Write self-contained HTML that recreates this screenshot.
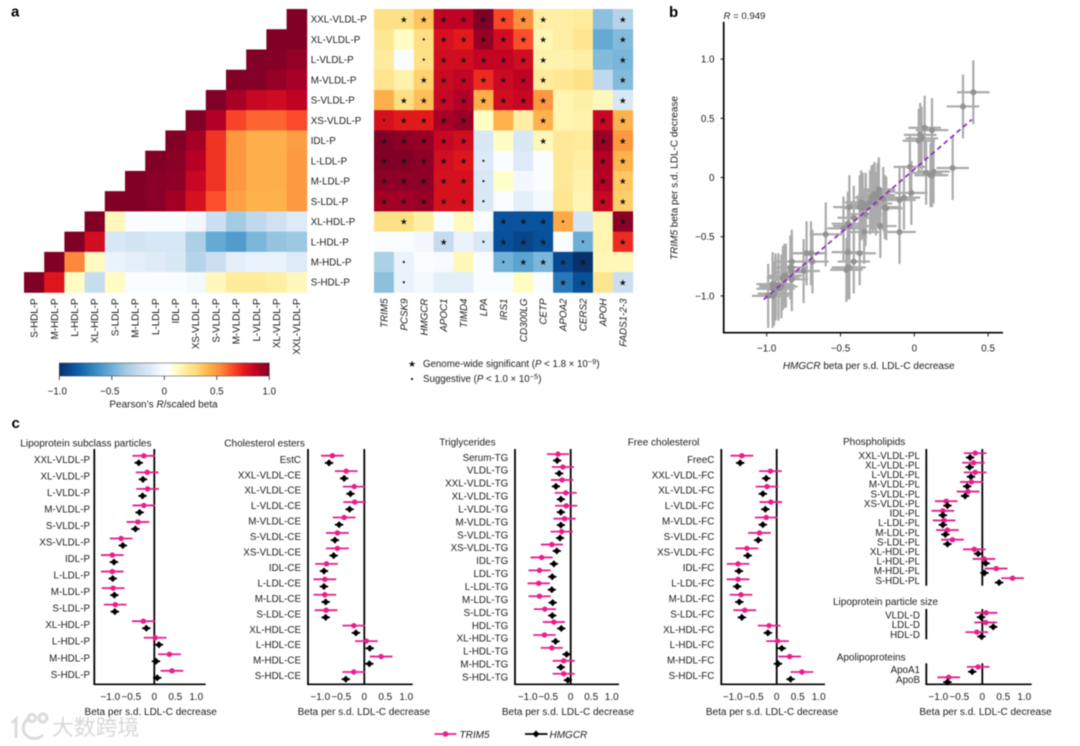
<!DOCTYPE html>
<html lang="en">
<head>
<meta charset="utf-8">
<title>Lipoprotein correlation and forest plots</title>
<style>
html,body{margin:0;padding:0;background:#fff;width:1080px;height:746px;overflow:hidden}
svg{display:block;filter:blur(0.4px)}
text{font-family:"Liberation Sans","Noto Sans CJK SC",sans-serif;fill:#1c1c1c}
</style>
</head>
<body>
<svg id="figure" xmlns="http://www.w3.org/2000/svg" width="1080" height="746" viewBox="0 0 1080 746">
  <defs><linearGradient id="cbar-gradient" x1="0" x2="1" y1="0" y2="0"></linearGradient></defs>
  <g id="watermark">
    <g fill="none" stroke="#dcdcdc" stroke-width="3">
      <path d="M12 723 L16 719 L16 738"/>
      <path d="M29 718 C21 724 21 735 31 738 C36 739 40 738 43 735"/>
      <circle cx="32" cy="718" r="3.6"/>
      <circle cx="43" cy="718" r="4"/>
    </g>
    <text x="52" y="735" font-size="21.8" style="fill:#d8d8d8;font-family:'Noto Sans CJK SC','WenQuanYi Zen Hei',sans-serif">大数跨境</text>
  </g>
  <g id="panel-a"></g>
  <g id="panel-b"></g>
  <g id="panel-c"></g>
  <g font-weight="700" font-size="15">
    <text x="11" y="16.5" style="fill:#000">a</text>
    <text x="669" y="17" style="fill:#000">b</text>
    <text x="11.5" y="428" style="fill:#000">c</text>
  </g>
  <g font-size="9.7">
    <text x="412" y="367" text-anchor="middle" font-size="9" style="font-family:'DejaVu Sans',sans-serif;fill:#111">★</text>
    <text x="423" y="367">Genome-wide significant (<tspan font-style="italic">P</tspan> &lt; 1.8 × 10<tspan dy="-3" font-size="7.5">−9</tspan><tspan dy="3">)</tspan></text>
    <circle cx="412" cy="379" r="1.1" fill="#111"/>
    <text x="423" y="382">Suggestive (<tspan font-style="italic">P</tspan> &lt; 1.0 × 10<tspan dy="-3" font-size="7.5">−5</tspan><tspan dy="3">)</tspan></text>
  </g>
  <g>
    <g>
      <line x1="434.5" x2="456.5" y1="734" y2="734" stroke="#e91e8c" stroke-width="1.8"/>
      <circle cx="445.5" cy="734" r="2.8" fill="#e91e8c"/>
      <text x="459.5" y="738" font-size="10" font-style="italic">TRIM5</text>
    </g>
    <g>
      <line x1="525" x2="547.5" y1="734" y2="734" stroke="#000" stroke-width="1.8"/>
      <polygon points="536,730.5 539.5,734 536,737.5 532.5,734" fill="#000"/>
      <text x="549.5" y="738" font-size="10" font-style="italic">HMGCR</text>
    </g>
  </g>
</svg>
<script>
/* ---------- Panel a data ---------- */
const corrRowLabels = ["XXL-VLDL-P","XL-VLDL-P","L-VLDL-P","M-VLDL-P","S-VLDL-P","XS-VLDL-P","IDL-P","L-LDL-P","M-LDL-P","S-LDL-P","XL-HDL-P","L-HDL-P","M-HDL-P","S-HDL-P"];
const corrColLabels = ["S-HDL-P","M-HDL-P","L-HDL-P","XL-HDL-P","S-LDL-P","M-LDL-P","L-LDL-P","IDL-P","XS-VLDL-P","S-VLDL-P","M-VLDL-P","L-VLDL-P","XL-VLDL-P","XXL-VLDL-P"];
const corrValues = [
 [null,null,null,null,null,null,null,null,null,null,null,null,null,1],
 [null,null,null,null,null,null,null,null,null,null,null,null,1,1],
 [null,null,null,null,null,null,null,null,null,null,null,1,0.99,0.96],
 [null,null,null,null,null,null,null,null,null,null,1,0.99,0.96,0.92],
 [null,null,null,null,null,null,null,null,null,1,0.92,0.85,0.83,0.87],
 [null,null,null,null,null,null,null,null,1,0.9,0.66,0.6,0.6,0.65],
 [null,null,null,null,null,null,null,1,0.93,0.7,0.5,0.43,0.43,0.48],
 [null,null,null,null,null,null,1,0.98,0.89,0.7,0.5,0.43,0.43,0.49],
 [null,null,null,null,null,1,0.98,0.97,0.85,0.7,0.5,0.43,0.43,0.49],
 [null,null,null,null,1,1,0.98,0.93,0.8,0.64,0.47,0.42,0.42,0.49],
 [null,null,null,1,0.14,0,0,0,-0.05,-0.22,-0.36,-0.27,-0.2,-0.13],
 [null,null,1,0.82,-0.16,-0.18,-0.16,-0.16,-0.33,-0.52,-0.58,-0.46,-0.4,-0.38],
 [null,1,0.54,0.13,-0.08,-0.1,-0.12,-0.15,-0.3,-0.22,-0.1,-0.08,-0.08,-0.13],
 [1,0.78,0.12,-0.24,0.12,0,0,0,-0.04,0.14,0.22,0.22,0.2,0.14]
];
const geneLabels = ["TRIM5","PCSK9","HMGCR","APOC1","TIMD4","LPA","IRS1","CD300LG","CETP","APOA2","CERS2","APOH","FADS1-2-3"];
const geneValues = [
 [0.27,0.27,0.37,0.87,0.87,1,0.66,0.52,0.2,0.2,0.22,-0.42,-0.3],
 [0.24,0.12,0.28,0.8,0.76,0.95,0.82,0.64,0.16,0.2,0.25,-0.52,-0.44],
 [0.22,0,0.27,0.82,0.82,0.86,0.86,0.82,0.18,0.18,0.2,-0.44,-0.47],
 [0.25,0.18,0.33,0.84,0.86,0.72,0.84,0.87,0.22,0.24,0.27,-0.27,-0.44],
 [0.43,0.28,0.39,0.85,0.9,0.43,0.82,0.85,0.5,0.17,0.19,0.14,-0.15],
 [0.8,0.76,0.76,0.92,0.95,0.12,0.42,0.2,0.42,0.17,0.18,0.85,0.42],
 [1,0.97,0.95,0.85,0.82,-0.15,0.12,-0.15,0.15,0.23,0.22,0.95,0.5],
 [1,1,0.97,0.82,0.78,-0.13,0,-0.13,0,0.23,0.2,0.9,0.42],
 [0.97,0.97,0.97,0.8,0.8,-0.15,0.1,-0.05,0,0.23,0.18,0.9,0.36],
 [0.93,0.93,0.95,0.8,0.8,-0.15,0,-0.1,-0.04,0.25,0.16,0.85,0.34],
 [0.27,0.27,0.2,0,0.13,0,-0.87,-0.87,-0.87,0.45,-0.17,0.17,0.98],
 [0,0,-0.05,-0.25,-0.08,-0.15,-0.88,-0.92,-0.88,0,-0.5,0.17,0.72],
 [-0.33,-0.08,0,-0.03,0.15,0,-0.48,-0.55,-0.46,-0.9,-1,0.15,0.15],
 [-0.42,-0.08,-0.04,-0.1,-0.1,0,0,0.12,0,-0.72,-0.88,0.25,-0.22]
];
const geneSignificance = [
 [0,2,2,2,2,2,2,2,2,0,0,0,2],
 [0,0,1,2,2,2,2,2,2,0,0,0,2],
 [0,0,1,2,2,2,2,2,2,0,0,0,2],
 [0,0,2,2,2,2,2,2,2,0,0,0,2],
 [0,2,2,2,2,2,2,2,2,0,0,0,2],
 [1,2,2,2,2,0,0,0,2,0,0,2,2],
 [2,2,2,2,2,0,0,0,2,0,0,2,2],
 [2,2,2,2,2,1,0,0,0,0,0,2,2],
 [2,2,2,2,2,1,0,0,0,0,0,2,2],
 [2,2,2,2,2,1,0,0,0,0,0,2,2],
 [0,2,0,0,0,0,2,2,2,1,0,0,2],
 [0,0,0,2,0,1,2,2,2,0,1,0,2],
 [0,1,0,0,0,0,1,2,2,2,2,0,0],
 [0,1,0,0,0,0,0,0,0,2,2,0,2]
];
const colorbarTicks = [-1,-0.5,0,0.5,1];
const colorbarTickLabels = ["−1.0","−0.5","0","0.5","1.0"];

/* ---------- Panel c data ---------- */
const lipoLabels = ["XXL-VLDL-P","XL-VLDL-P","L-VLDL-P","M-VLDL-P","S-VLDL-P","XS-VLDL-P","IDL-P","L-LDL-P","M-LDL-P","S-LDL-P","XL-HDL-P","L-HDL-P","M-HDL-P","S-HDL-P"];
const lipoTrim5 = [-0.25,-0.17,-0.16,-0.25,-0.39,-0.79,-1.0,-1.0,-0.98,-0.93,-0.26,0.02,0.36,0.42];
const lipoHmgcr = [-0.37,-0.27,-0.28,-0.35,-0.45,-0.75,-0.96,-0.99,-0.95,-0.94,-0.19,0.11,0.04,0.07];
const ceLabels = ["EstC","XXL-VLDL-CE","XL-VLDL-CE","L-VLDL-CE","M-VLDL-CE","S-VLDL-CE","XS-VLDL-CE","IDL-CE","L-LDL-CE","M-LDL-CE","S-LDL-CE","XL-HDL-CE","L-HDL-CE","M-HDL-CE","S-HDL-CE"];
const ceTrim5 = [-0.76,-0.43,-0.24,-0.23,-0.48,-0.64,-0.64,-0.9,-0.94,-0.94,-0.91,-0.25,0.05,0.4,-0.25];
const ceHmgcr = [-0.84,-0.48,-0.33,-0.35,-0.6,-0.7,-0.73,-0.96,-0.96,-0.92,-0.92,-0.2,0.13,0.12,-0.44];
const tgLabels = ["Serum-TG","VLDL-TG","XXL-VLDL-TG","XL-VLDL-TG","L-VLDL-TG","M-VLDL-TG","S-VLDL-TG","XS-VLDL-TG","IDL-TG","LDL-TG","L-LDL-TG","M-LDL-TG","S-LDL-TG","HDL-TG","XL-HDL-TG","L-HDL-TG","M-HDL-TG","S-HDL-TG"];
const tgTrim5 = [-0.31,-0.19,-0.21,-0.12,-0.11,-0.15,-0.22,-0.46,-0.71,-0.76,-0.78,-0.76,-0.63,-0.41,-0.64,-0.46,-0.17,-0.17];
const tgHmgcr = [-0.33,-0.28,-0.36,-0.24,-0.24,-0.24,-0.26,-0.34,-0.41,-0.45,-0.46,-0.44,-0.45,-0.23,-0.37,-0.1,-0.24,-0.07];
const fcLabels = ["FreeC","XXL-VLDL-FC","XL-VLDL-FC","L-VLDL-FC","M-VLDL-FC","S-VLDL-FC","XS-VLDL-FC","IDL-FC","L-LDL-FC","M-LDL-FC","S-LDL-FC","XL-HDL-FC","L-HDL-FC","M-HDL-FC","S-HDL-FC"];
const fcTrim5 = [-0.83,-0.15,-0.23,-0.14,-0.25,-0.41,-0.71,-0.92,-0.92,-0.85,-0.76,-0.18,0.02,0.31,0.6];
const fcHmgcr = [-0.87,-0.25,-0.33,-0.27,-0.33,-0.44,-0.69,-0.9,-0.94,-0.89,-0.83,-0.21,0.12,0.03,0.33];
const plLabels = ["XXL-VLDL-PL","XL-VLDL-PL","L-VLDL-PL","M-VLDL-PL","S-VLDL-PL","XS-VLDL-PL","IDL-PL","L-LDL-PL","M-LDL-PL","S-LDL-PL","XL-HDL-PL","L-HDL-PL","M-HDL-PL","S-HDL-PL"];
const plTrim5 = [-0.17,-0.21,-0.17,-0.26,-0.34,-0.86,-0.94,-0.91,-0.83,-0.71,-0.19,0.04,0.33,0.72];
const plHmgcr = [-0.29,-0.3,-0.27,-0.36,-0.41,-0.83,-0.94,-0.94,-0.88,-0.83,-0.1,0.08,0.05,0.4];
const sizeLabels = ["VLDL-D","LDL-D","HDL-D"];
const sizeTrim5 = [0.09,0.08,-0.13];
const sizeHmgcr = [-0.03,0.26,-0.02];
const apoLabels = ["ApoA1","ApoB"];
const apoTrim5 = [-0.1,-0.8];
const apoHmgcr = [-0.24,-0.83];
const forestTicks = [-1,-0.5,0,0.5,1];
const forestTickLabels = ["−1.0","−0.5","0","0.5","1.0"];
const trim5ErrorHalf = 0.27;
const hmgcrErrorHalf = 0.1;

/* ---------- Panel b data ---------- */
const scatterX = [].concat(lipoHmgcr,ceHmgcr,tgHmgcr,fcHmgcr,plHmgcr,sizeHmgcr,apoHmgcr);
const scatterY = [].concat(lipoTrim5,ceTrim5,tgTrim5,fcTrim5,plTrim5,sizeTrim5,apoTrim5);
const scatterXErrorHalf = 0.11;
const scatterYErrorHalf = 0.27;
const fitLineX = [-1.02,0.39];
const fitLineY = [-1.03,0.49];
const scatterXTicks = [-1,-0.5,0,0.5];
const scatterXTickLabels = ["−1.0","−0.5","0","0.5"];
const scatterYTicks = [1,0.5,0,-0.5,-1];
const scatterYTickLabels = ["1.0","0.5","0","−0.5","−1.0"];

/* ---------- Helpers ---------- */
const NS = "http://www.w3.org/2000/svg";
function mk(tag, attrs, parent, name) {
  const el = document.createElementNS(NS, tag);
  for (const k in attrs) el.setAttribute(k, attrs[k]);
  
  
  parent.appendChild(el);
  return el;
}
function label(str, attrs, parent, name) {
  const el = mk('text', attrs, parent, name);
  el.textContent = str;
  return el;
}
function slug(s) { return s.toLowerCase().replace(/[^a-z0-9]+/g, '-'); }

/* Colour map */
const colorStops = [
 [-1,[8,48,107]],[-0.875,[8,81,156]],[-0.75,[33,113,181]],[-0.625,[66,146,198]],[-0.5,[107,174,214]],
 [-0.375,[158,202,225]],[-0.25,[198,219,239]],[-0.125,[222,235,247]],[-0.03,[247,251,255]],[0.05,[255,255,255]],
 [0.1,[255,255,204]],[0.21,[255,237,160]],[0.31,[254,217,118]],[0.42,[254,178,76]],[0.53,[253,141,60]],
 [0.64,[252,78,42]],[0.76,[227,26,28]],[0.88,[189,0,38]],[1,[128,0,38]]
];
function colorFor(v) {
  v = Math.max(-1, Math.min(1, v));
  for (let i = 1; i < colorStops.length; i++) {
    if (v <= colorStops[i][0]) {
      const a = colorStops[i-1], b = colorStops[i];
      const t = (v - a[0]) / (b[0] - a[0]);
      const c = a[1].map((p, j) => Math.round(p + (b[1][j] - p) * t));
      return 'rgb(' + c.join(',') + ')';
    }
  }
  return 'rgb(128,0,38)';
}

/* ---------- Panel a ---------- */
const panelA = document.getElementById('panel-a');
const HM_TOP = 9, HM_ROW = 20.24;
const TRI_LEFT = 24, TRI_COL = 20.2;
const GENE_LEFT = 374, GENE_COL = 19.9;
const rowY = i => HM_TOP + i * HM_ROW;

const triGroup = mk('g', {}, panelA, 'correlation-heatmap');
corrValues.forEach((row, r) => {
  row.forEach((v, c) => {
    if (v === null) return;
    mk('rect', {x: TRI_LEFT + c * TRI_COL, y: rowY(r), width: TRI_COL + 0.4, height: HM_ROW + 0.4, fill: colorFor(v)}, triGroup,
      'corr-cell-' + slug(corrRowLabels[r]) + '-' + slug(corrColLabels[c]));
  });
});
corrRowLabels.forEach((t, r) => {
  label(t, {x: 310.7, y: rowY(r) + HM_ROW / 2 + 3.5, 'font-size': 9.8}, panelA, 'row-label-' + slug(t));
});
corrColLabels.forEach((t, c) => {
  const x = TRI_LEFT + (c + 0.5) * TRI_COL + 3.5;
  label(t, {x: x, y: 298.5, 'font-size': 9.8, 'text-anchor': 'end', transform: 'rotate(-90 ' + x + ' 298.5)'}, panelA, 'col-label-' + slug(t));
});

const geneGroup = mk('g', {}, panelA, 'gene-heatmap');
geneValues.forEach((row, r) => {
  row.forEach((v, c) => {
    mk('rect', {x: GENE_LEFT + c * GENE_COL, y: rowY(r), width: GENE_COL + 0.4, height: HM_ROW + 0.4, fill: colorFor(v)}, geneGroup,
      'gene-cell-' + slug(corrRowLabels[r]) + '-' + slug(geneLabels[c]));
  });
});
geneSignificance.forEach((row, r) => {
  row.forEach((s, c) => {
    const cx = GENE_LEFT + (c + 0.5) * GENE_COL;
    const cy = rowY(r) + HM_ROW / 2;
    if (s === 2) {
      const st = mk('text', {x: cx, y: cy + 3.2, 'text-anchor': 'middle', 'font-size': 8.5, style: "font-family:'DejaVu Sans',sans-serif;fill:#151515"}, geneGroup, 'significant-star');
      st.textContent = '★';
    } else if (s === 1) {
      mk('circle', {cx: cx, cy: cy, r: 1.1, fill: '#111'}, geneGroup, 'suggestive-dot');
    }
  });
});
geneLabels.forEach((t, c) => {
  const x = GENE_LEFT + (c + 0.5) * GENE_COL + 3.5;
  label(t, {x: x, y: 298.5, 'font-size': 9.8, 'font-style': 'italic', 'text-anchor': 'end', transform: 'rotate(-90 ' + x + ' 298.5)'}, panelA, 'gene-label-' + slug(t));
});

/* Colour bar */
const gradient = document.getElementById('cbar-gradient');
colorStops.forEach(s => {
  const st = document.createElementNS(NS, 'stop');
  st.setAttribute('offset', ((s[0] + 1) / 2 * 100) + '%');
  st.setAttribute('stop-color', 'rgb(' + s[1].join(',') + ')');
  gradient.appendChild(st);
});
const cbX = v => 164.3 + v * 105;
const cbGroup = mk('g', {}, panelA, 'colorbar');
mk('rect', {x: cbX(-1), y: 363, width: cbX(1) - cbX(-1), height: 13, fill: 'url(#cbar-gradient)', stroke: '#333', 'stroke-width': 0.5}, cbGroup, 'colorbar-ramp');
colorbarTicks.forEach((v, i) => {
  mk('line', {x1: cbX(v), x2: cbX(v), y1: 376, y2: 380, stroke: '#222', 'stroke-width': 0.8}, cbGroup, 'colorbar-tick');
  label(colorbarTickLabels[i], {x: cbX(v) - (v < 0 ? 2 : 0), y: 394.5, 'font-size': 9.8, 'text-anchor': 'middle'}, cbGroup, 'colorbar-tick-label');
});
const cbTitle = label('Pearson\u2019s ', {x: 163.5, y: 407.5, 'font-size': 10, 'text-anchor': 'middle'}, cbGroup, 'colorbar-title');
const cbItalic = document.createElementNS(NS, 'tspan');
cbItalic.setAttribute('font-style', 'italic');
cbItalic.textContent = 'R';
cbTitle.appendChild(cbItalic);
cbTitle.appendChild(document.createTextNode('/scaled beta'));

/* ---------- Panel b ---------- */
const panelB = document.getElementById('panel-b');
const sx = v => 914.3 + v * 147.6;
const sy = v => 177.5 - v * 118.4;
const errGroup = mk('g', {stroke: '#ababab', 'stroke-width': 2.2}, panelB, 'scatter-error-bars');
scatterX.forEach((x, i) => {
  const y = scatterY[i];
  mk('line', {x1: sx(x), x2: sx(x), y1: sy(y + scatterYErrorHalf), y2: sy(y - scatterYErrorHalf)}, errGroup, 'scatter-error-vertical');
  mk('line', {x1: sx(x - scatterXErrorHalf), x2: sx(x + scatterXErrorHalf), y1: sy(y), y2: sy(y)}, errGroup, 'scatter-error-horizontal');
});
const ptGroup = mk('g', {fill: '#939393'}, panelB, 'scatter-points');
scatterX.forEach((x, i) => {
  mk('circle', {cx: sx(x), cy: sy(scatterY[i]), r: 3}, ptGroup, 'scatter-point');
});
mk('line', {x1: sx(fitLineX[0]), y1: sy(fitLineY[0]), x2: sx(fitLineX[1]), y2: sy(fitLineY[1]), stroke: '#8a2bc4', 'stroke-width': 1.7, 'stroke-dasharray': '5 3.5'}, panelB, 'fit-line');
mk('line', {x1: 723.7, x2: 723.7, y1: 21.7, y2: 333.4, stroke: '#000', 'stroke-width': 1.7}, panelB, 'scatter-y-axis');
mk('line', {x1: 723, x2: 1003, y1: 332.7, y2: 332.7, stroke: '#000', 'stroke-width': 1.7}, panelB, 'scatter-x-axis');
scatterXTicks.forEach((v, i) => {
  mk('line', {x1: sx(v), x2: sx(v), y1: 333, y2: 336.5, stroke: '#000', 'stroke-width': 0.9}, panelB, 'scatter-x-tick');
  label(scatterXTickLabels[i], {x: sx(v), y: 351.5, 'font-size': 9.8, 'text-anchor': 'middle'}, panelB, 'scatter-x-tick-label');
});
scatterYTicks.forEach((v, i) => {
  mk('line', {x1: 720.5, x2: 723.5, y1: sy(v), y2: sy(v), stroke: '#000', 'stroke-width': 0.9}, panelB, 'scatter-y-tick');
  label(scatterYTickLabels[i], {x: 714.5, y: sy(v) + 3.5, 'font-size': 9.8, 'text-anchor': 'end'}, panelB, 'scatter-y-tick-label');
});
const rLabel = label('', {x: 723.5, y: 19, 'font-size': 9.6}, panelB, 'correlation-annotation');
const rItalic = document.createElementNS(NS, 'tspan');
rItalic.setAttribute('font-style', 'italic');
rItalic.textContent = 'R';
rLabel.appendChild(rItalic);
rLabel.appendChild(document.createTextNode(' = 0.949'));
const xTitle = label('', {x: 868.7, y: 369, 'font-size': 10, 'text-anchor': 'middle'}, panelB, 'x-axis-title');
const xItalic = document.createElementNS(NS, 'tspan');
xItalic.setAttribute('font-style', 'italic');
xItalic.textContent = 'HMGCR';
xTitle.appendChild(xItalic);
xTitle.appendChild(document.createTextNode(' beta per s.d. LDL-C decrease'));
const yTitle = label('', {x: 677.5, y: 178, 'font-size': 10, 'text-anchor': 'middle', transform: 'rotate(-90 677.5 178)'}, panelB, 'y-axis-title');
const yItalic = document.createElementNS(NS, 'tspan');
yItalic.setAttribute('font-style', 'italic');
yItalic.textContent = 'TRIM5';
yTitle.appendChild(yItalic);
yTitle.appendChild(document.createTextNode(' beta per s.d. LDL-C decrease'));

/* ---------- Panel c ---------- */
const panelC = document.getElementById('panel-c');
const PINK = '#e91e8c';
function forestBlock(o) {
  const g = mk('g', {}, panelC, o.name);
  const fx = v => o.x0 + v * o.scale;
  const fy = i => o.firstY + i * o.step;
  label(o.title, {x: o.titleX, y: o.titleY, 'font-size': 10}, g, o.name + '-title');
  mk('line', {x1: o.axisX, x2: o.axisX, y1: o.top, y2: o.bottom, stroke: '#000', 'stroke-width': 1.8}, g, o.name + '-y-axis');
  mk('line', {x1: o.x0, x2: o.x0, y1: o.top, y2: o.bottom, stroke: '#000', 'stroke-width': 1.8}, g, o.name + '-zero-line');
  o.labels.forEach((t, i) => {
    label(t, {x: o.labelRight, y: fy(i) + 3.5, 'font-size': 9.8, 'text-anchor': 'end'}, g, 'trait-label-' + slug(t));
    const ty = fy(i) - o.gap, hy = fy(i) + o.gap;
    mk('line', {x1: fx(o.trim[i] - trim5ErrorHalf), x2: fx(o.trim[i] + trim5ErrorHalf), y1: ty, y2: ty, stroke: PINK, 'stroke-width': 1.8}, g, 'trim5-error-' + slug(t));
    mk('circle', {cx: fx(o.trim[i]), cy: ty, r: 2.7, fill: PINK}, g, 'trim5-point-' + slug(t));
    mk('line', {x1: fx(o.hmgcr[i] - hmgcrErrorHalf), x2: fx(o.hmgcr[i] + hmgcrErrorHalf), y1: hy, y2: hy, stroke: '#000', 'stroke-width': 1.8}, g, 'hmgcr-error-' + slug(t));
    const hx = fx(o.hmgcr[i]);
    mk('polygon', {points: (hx) + ',' + (hy - 3.6) + ' ' + (hx + 3.4) + ',' + hy + ' ' + hx + ',' + (hy + 3.6) + ' ' + (hx - 3.4) + ',' + hy, fill: '#000'}, g, 'hmgcr-point-' + slug(t));
  });
  if (o.xTitleX !== undefined) {
    mk('line', {x1: o.axisX - 0.9, x2: o.axisRight, y1: 684.3, y2: 684.3, stroke: '#000', 'stroke-width': 1.7}, g, o.name + '-x-axis');
    forestTicks.forEach((v, i) => {
      label(forestTickLabels[i], {x: fx(v) - (v < 0 ? 2 : 0), y: 700, 'font-size': 10, 'text-anchor': 'middle'}, g, o.name + '-tick-label');
    });
    label('Beta per s.d. LDL-C decrease', {x: o.xTitleX, y: 715, 'font-size': 10, 'text-anchor': 'middle'}, g, o.name + '-x-title');
  }
}
forestBlock({name:'forest-lipoprotein-subclass',title:'Lipoprotein subclass particles',titleX:20.3,titleY:446.5,labels:lipoLabels,trim:lipoTrim5,hmgcr:lipoHmgcr,
  x0:154.3,scale:42,axisX:94.3,axisRight:205.7,top:449,bottom:684.3,firstY:459.3,step:16.54,gap:3.5,labelRight:90,xTitleX:150.7});
forestBlock({name:'forest-cholesterol-esters',title:'Cholesterol esters',titleX:224.3,titleY:446.5,labels:ceLabels,trim:ceTrim5,hmgcr:ceHmgcr,
  x0:364.3,scale:42,axisX:308,axisRight:412.7,top:449,bottom:684.3,firstY:459.3,step:15.45,gap:3.6,labelRight:301,xTitleX:363.8});
forestBlock({name:'forest-triglycerides',title:'Triglycerides',titleX:439.3,titleY:445.5,labels:tgLabels,trim:tgTrim5,hmgcr:tgHmgcr,
  x0:570.7,scale:41,axisX:515,axisRight:619,top:449,bottom:684.3,firstY:457.3,step:12.92,gap:3.2,labelRight:508.3,xTitleX:568});
forestBlock({name:'forest-free-cholesterol',title:'Free cholesterol',titleX:627.7,titleY:445.5,labels:fcLabels,trim:fcTrim5,hmgcr:fcHmgcr,
  x0:776.7,scale:42,axisX:721.3,axisRight:825,top:449,bottom:684.3,firstY:459.3,step:15.45,gap:3.6,labelRight:714.3,xTitleX:772});
forestBlock({name:'forest-phospholipids',title:'Phospholipids',titleX:843,titleY:445.2,labels:plLabels,trim:plTrim5,hmgcr:plHmgcr,
  x0:982.3,scale:42,axisX:926.3,top:449,bottom:585.7,firstY:455.3,step:9.62,gap:2.2,labelRight:920});
forestBlock({name:'forest-particle-size',title:'Lipoprotein particle size',titleX:833,titleY:605.2,labels:sizeLabels,trim:sizeTrim5,hmgcr:sizeHmgcr,
  x0:982.3,scale:42,axisX:926.3,top:609,bottom:639.3,firstY:615,step:9.65,gap:2.2,labelRight:920});
forestBlock({name:'forest-apolipoproteins',title:'Apolipoproteins',titleX:836.7,titleY:660.5,labels:apoLabels,trim:apoTrim5,hmgcr:apoHmgcr,
  x0:982.3,scale:42,axisX:926.3,axisRight:1031.7,top:663.3,bottom:684.3,firstY:669.3,step:10.4,gap:2.4,labelRight:920,xTitleX:985.5});
</script>
</body>
</html>
